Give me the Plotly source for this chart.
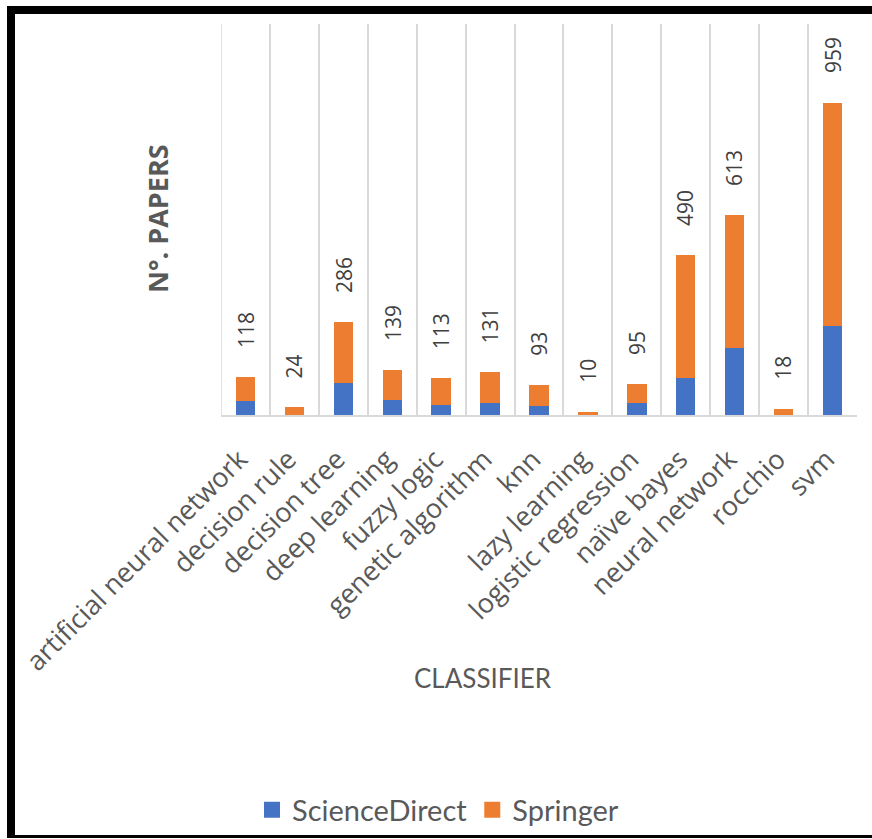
import plotly.graph_objects as go

# Papers per classifier, by source
classifiers = [
    "artificial neural network", "decision rule", "decision tree",
    "deep learning", "fuzzy logic", "genetic algorithm", "knn",
    "lazy learning", "logistic regression", "naïve bayes",
    "neural network", "rocchio", "svm",
]
totals = [118, 24, 286, 139, 113, 131, 93, 10, 95, 490, 613, 18, 959]
sciencedirect = [43, 0, 99, 46, 30, 36, 29, 0, 36, 113, 207, 0, 272]
springer = [t - s for t, s in zip(totals, sciencedirect)]

W, H = 872, 839
M_L, M_R, M_T, M_B = 221, 15, 24, 424
PW, PH = W - M_L - M_R, H - M_T - M_B

BLUE = "#4472C4"
ORANGE = "#ED7D31"
GRID = "#D9D9D9"
TXT = "#595959"


def px_x(x):
    return (x - M_L) / PW


def px_y(y):
    return (H - M_B - y) / PH


fig = go.Figure()
fig.add_trace(go.Bar(name="ScienceDirect", x=classifiers, y=sciencedirect,
                     marker=dict(color=BLUE, line=dict(width=0)),
                     showlegend=False))
fig.add_trace(go.Bar(name="Springer", x=classifiers, y=springer,
                     marker=dict(color=ORANGE, line=dict(width=0)),
                     showlegend=False))

# Legend entries with larger square swatches
for name, col in [("ScienceDirect", BLUE), ("Springer", ORANGE)]:
    fig.add_trace(go.Scatter(x=[None], y=[None], mode="markers", name=name,
                             marker=dict(symbol="square", size=18, color=col)))

annotations = []
for c, t in zip(classifiers, totals):
    annotations.append(dict(
        x=c, y=t, xref="x", yref="y", text=str(t), showarrow=False,
        textangle=-90, yanchor="bottom", xanchor="center", yshift=27,
        font=dict(family="Open Sans", size=21, color="#404040"),
    ))

annotations.append(dict(
    x=px_x(157), y=px_y(219), xref="paper", yref="paper", text="N°. PAPERS",
    showarrow=False, textangle=-90, xanchor="center", yanchor="middle",
    font=dict(family="Open Sans", size=27, color=TXT, weight="bold"),
))
annotations.append(dict(
    x=px_x(483), y=px_y(678), xref="paper", yref="paper", text="CLASSIFIER",
    showarrow=False, xanchor="center", yanchor="middle",
    font=dict(family="Lato", size=26, color=TXT),
))

# Frame around the chart, plus the leftmost category boundary line
shapes = [
    dict(type="rect", xref="paper", yref="paper", x0=px_x(7), x1=px_x(15),
         y0=px_y(838), y1=px_y(6), fillcolor="black", line=dict(width=0)),
    dict(type="rect", xref="paper", yref="paper", x0=px_x(7), x1=px_x(880),
         y0=px_y(14), y1=px_y(6), fillcolor="black", line=dict(width=0)),
    dict(type="rect", xref="paper", yref="paper", x0=px_x(7), x1=px_x(880),
         y0=px_y(838), y1=px_y(835), fillcolor="black", line=dict(width=0)),
    dict(type="line", xref="x", yref="paper", x0=-0.5, x1=-0.5, y0=0, y1=1,
         line=dict(color=GRID, width=1.5), layer="below"),
]

fig.update_layout(
    width=W, height=H,
    margin=dict(l=M_L, r=M_R, t=M_T, b=M_B, pad=0, autoexpand=False),
    paper_bgcolor="white", plot_bgcolor="white",
    barmode="stack", bargap=0.605,
    showlegend=True,
    legend=dict(orientation="h", x=px_x(438), y=px_y(810),
                xanchor="center", yanchor="middle",
                bgcolor="rgba(0,0,0,0)",
                font=dict(family="Lato", size=29, color=TXT),
                traceorder="normal", itemwidth=30, itemsizing="trace"),
    annotations=annotations,
    shapes=shapes,
    xaxis=dict(
        type="category", tickson="boundaries", showgrid=True,
        gridcolor=GRID, gridwidth=1.5,
        showline=True, linecolor=GRID, linewidth=1.5,
        ticks="", tickangle=-45, ticklabelstandoff=16, ticklabelshift=-6,
        tickfont=dict(family="Open Sans", size=27, color=TXT),
        range=[-0.5, 12.5],
    ),
    yaxis=dict(
        range=[0, 1200], showgrid=False, zeroline=False, showline=False,
        showticklabels=False, ticks="",
    ),
)

fig.write_html("out.html")
